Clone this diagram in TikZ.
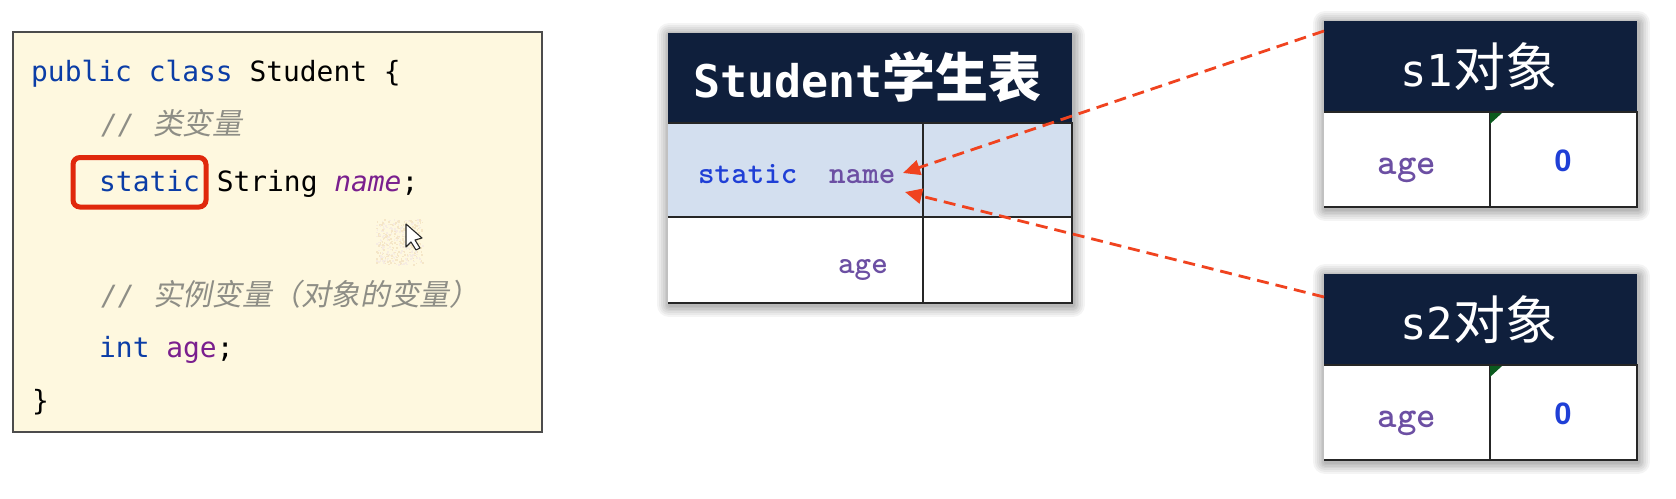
\documentclass[tikz,border=0pt]{standalone}
\usepackage{fontspec}
\usetikzlibrary{arrows.meta}
\newfontfamily\codefont{DejaVu Sans Mono}
\newfontfamily\cjkfont{Noto Sans CJK SC}
\newfontfamily\cjkslant[FakeSlant=0.2]{Noto Sans CJK SC}
\newfontfamily\zerofont{Liberation Sans}
\newcommand{\fsz}[1]{\fontsize{#1}{#1}\selectfont}
\definecolor{kwblue}{HTML}{0B3DA6}
\definecolor{fieldpurple}{HTML}{7A1F8E}
\definecolor{commentgrey}{HTML}{8E8E86}
\definecolor{paper}{HTML}{FEF8DF}
\definecolor{navy}{HTML}{0F1F3C}
\definecolor{rowblue}{HTML}{D3DFEF}
\definecolor{tblblue}{HTML}{1F3FD6}
\definecolor{tblpurple}{HTML}{6C4FA3}
\definecolor{callred}{HTML}{E0280C}
\definecolor{arrowred}{HTML}{F0431F}
\definecolor{cornergreen}{HTML}{0B5A1E}
\newcommand{\softshadow}[4]{%
  \foreach \w in {24,20,16,12,9,6,3}{
    \draw[line width=\w pt,draw=black,opacity=0.045,line join=round]
      (#1+1,#2+2) rectangle (#3+1,#4+2);
  }}
\tikzset{
  x=1pt,y=-1pt,
  codeline/.style={anchor=base west,inner sep=0pt,font=\codefont\fsz{27.9}},
  commentline/.style={anchor=base west,inner sep=0pt,text=commentgrey,font=\codefont\fsz{27.9}},
  commentcjk/.style={anchor=base west,inner sep=0pt,text=commentgrey,font=\cjkslant\fsz{29.6}},
  celltext/.style={anchor=base,inner sep=0pt,font=\ttfamily\bfseries\fsz{#1}},
  headtext/.style={anchor=base,inner sep=0pt,text=white},
  refarrow/.style={draw=arrowred,line width=2.8pt,dash pattern=on 12pt off 7pt,
     -{Triangle[length=17pt,width=15pt,fill=arrowred]}},
}
\begin{document}
\begin{tikzpicture}
\useasboundingbox[fill=white] (0,0) rectangle (1676,498);
% code box
\path[fill=paper,draw=black!70,line width=1.4pt] (13,32) rectangle (542,432);
\node[codeline] (l1) at (31,81) {\textcolor{kwblue}{public class} Student \{};
\node[commentline] (l2a) at (101,134) {\itshape //};
\node[commentcjk] (l2b) at (153,134) {类变量};
\node[codeline] (l3) at (99,191) {\textcolor{kwblue}{static} String \textcolor{fieldpurple}{\itshape name};};
\node[commentline] (l4a) at (101,305) {\itshape //};
\node[commentcjk] (l4b) at (153,305) {实例变量（对象的变量）};
\node[codeline] (l5) at (99,357) {\textcolor{kwblue}{int} \textcolor{fieldpurple}{age};};
\node[codeline] (l6) at (32,410) {\}};
\draw[callred,line width=5pt,rounded corners=7pt] (73,157.5) rectangle (206,207);
% cursor patch
\pgfmathsetseed{7}
\foreach \i in {1,...,420}{
  \pgfmathsetmacro{\px}{376+46*rnd}
  \pgfmathsetmacro{\py}{219+45*rnd}
  \pgfmathsetmacro{\pc}{rnd>0.5?100:0}
  \fill[white!\pc!paper!85!brown] (\px,\py) rectangle +(1.6,1.6);
}
\draw[fill=white,draw=black!85,line width=1.1pt,line join=round]
  (406,224) -- (406,247) -- (411,242) -- (416,250) -- (420,248) -- (415,240) -- (422,238) -- cycle;
% Student table
\softshadow{668}{33}{1072}{303}
\fill[navy] (668,33) rectangle (1072,123);
\fill[rowblue] (668,123) rectangle (1072,217);
\fill[white] (668,217) rectangle (1072,303);
\draw[black!85,line width=1.6pt] (668,123) -- (1072,123) -- (1072,303) -- (668,303);
\draw[black!85,line width=1.6pt] (668,217) -- (1072,217);
\draw[black!85,line width=1.6pt] (923,123) -- (923,303);
\node[headtext,anchor=base west] (stitle) at (693,97) {\codefont\bfseries\fsz{45}Student\cjkfont\fsz{53}学生表};
\node[celltext=31.5,text=tblblue,anchor=base west] (fstatic) at (698,183) {static};
\node[celltext=31.5,text=tblpurple,anchor=base west] (fname) at (829,183) {name};
\node[celltext=31.5,text=tblpurple,anchor=base west] (fage) at (838,273) {age};
% s tables
\softshadow{1324}{21}{1637}{207}
\softshadow{1324}{274}{1637}{460}
\foreach \nm/\t/\lab in {s1/21/1,s2/274/2}{
  \fill[navy] (1324,\t) rectangle (1637,\t+91);
  \fill[white] (1324,\t+91) rectangle (1637,\t+186);
  \draw[black!85,line width=1.6pt] (1324,\t+91) -- (1637,\t+91) -- (1637,\t+186) -- (1324,\t+186);
  \draw[black!85,line width=1.6pt] (1490,\t+91) -- (1490,\t+186);
  \fill[cornergreen] (1490,\t+92) -- (1502,\t+92) -- (1490,\t+103) -- cycle;
  \node[headtext,anchor=base west] (\nm title) at (1400,\t+65) {\codefont\fsz{44}s\lab\cjkfont\fsz{52}对象};
  \node[celltext=37,text=tblpurple] (\nm age) at (1407,\t+153) {age};
  \node[anchor=base,inner sep=0pt,text=tblblue,font=\zerofont\bfseries\fsz{31}] (\nm val) at (1563,\t+150) {0};
}
% connectors
\coordinate (s1port) at (1324,31);
\coordinate (s2port) at (1324,297);
\coordinate (nameA) at (903,173);
\coordinate (nameB) at (905,192);
\draw[refarrow] (s1port) -- (nameA);
\draw[refarrow] (s2port) -- (nameB);
\end{tikzpicture}
\end{document}
